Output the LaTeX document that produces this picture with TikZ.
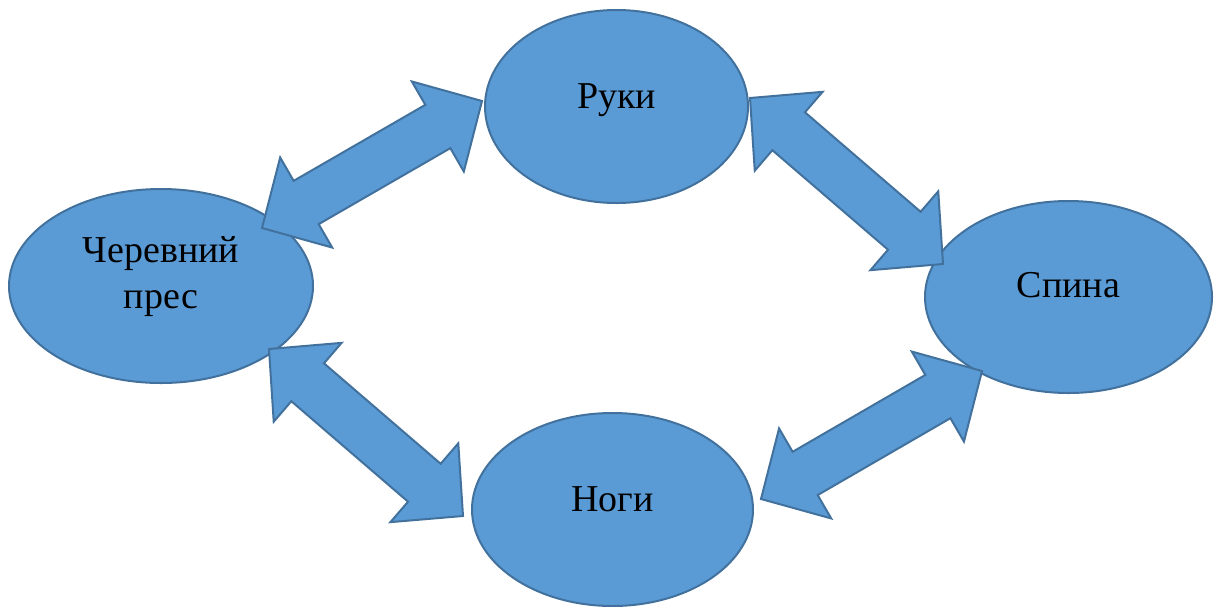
\documentclass[tikz,border=0pt]{standalone}
\usepackage{fontspec}
\setmainfont{Liberation Serif}
\usetikzlibrary{shapes.geometric,calc}

\definecolor{zonefill}{HTML}{5B9BD5}
\definecolor{zoneline}{HTML}{41719C}

\tikzset{
	zone/.style={ellipse,draw=zoneline,fill=zonefill,line width=2pt,inner sep=0pt},
	caption/.style={font=\fontsize{38}{46}\selectfont,align=center},
	link/.style={draw=zoneline,fill=zonefill,line width=2pt,line join=miter}
}

% size of the block arrows
\newcommand{\arrhead}{51pt}
\newcommand{\arrwing}{52pt}
\newcommand{\arrshaft}{25pt}
\newcommand{\dblarrow}[2]{%
	\path[link] (#1)
	-- ($(#1)!\arrhead!(#2)!\arrwing!90:(#2)$)
	-- ($(#1)!\arrhead!(#2)!\arrshaft!90:(#2)$)
	-- ($(#2)!\arrhead!(#1)!\arrshaft!-90:(#1)$)
	-- ($(#2)!\arrhead!(#1)!\arrwing!-90:(#1)$)
	-- (#2)
	-- ($(#2)!\arrhead!(#1)!\arrwing!90:(#1)$)
	-- ($(#2)!\arrhead!(#1)!\arrshaft!90:(#1)$)
	-- ($(#1)!\arrhead!(#2)!\arrshaft!-90:(#2)$)
	-- ($(#1)!\arrhead!(#2)!\arrwing!-90:(#2)$)
	-- cycle;}

\begin{document}
\begin{tikzpicture}[x=1pt,y=-1pt]
	\useasboundingbox (0,0) rectangle (1214,606);
	% ellipses
	\node[zone,minimum width=263pt,minimum height=193pt] (ruky) at (616.5,106.5) {};
	\node[zone,minimum width=304pt,minimum height=194pt] (cherevnyi) at (161,286) {};
	\node[zone,minimum width=287pt,minimum height=192pt] (spyna) at (1068.5,297) {};
	\node[zone,minimum width=281pt,minimum height=193pt] (nohy) at (612.5,509.5) {};
	\node[caption,anchor=base] at ([yshift=-1.5pt]ruky.center) {Руки};
	\node[caption] at ([yshift=9pt]cherevnyi.center) {Черевний\\прес};
	\node[caption,anchor=base] at (spyna.center) {Спина};
	\node[caption,anchor=base] at ([yshift=-1.5pt]nohy.center) {Ноги};
	% arrow tips
	\coordinate (rk-l) at (482,101);
	\coordinate (rk-r) at (750,98);
	\coordinate (ch-t) at (262,228);
	\coordinate (ch-b) at (269,349);
	\coordinate (sp-t) at (943,264);
	\coordinate (sp-b) at (982,371);
	\coordinate (nh-l) at (463,516);
	\coordinate (nh-r) at (761,499);
	\foreach \a/\b in {rk-l/ch-t,rk-r/sp-t,ch-b/nh-l,sp-b/nh-r}
	\dblarrow{\a}{\b};
\end{tikzpicture}
\end{document}
